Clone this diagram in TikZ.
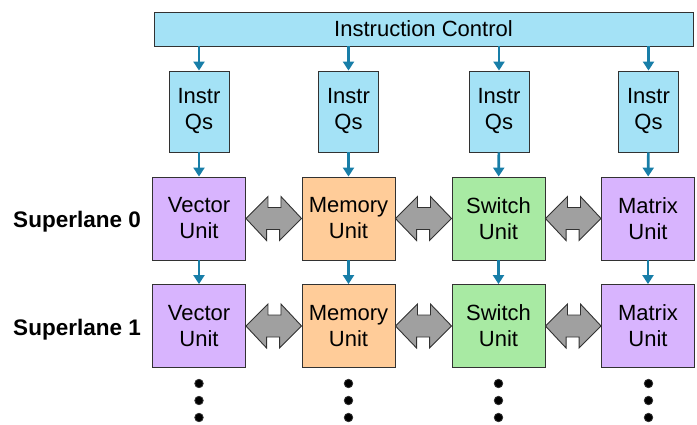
\documentclass[tikz,border=0pt]{standalone}
\usepackage{fontspec}
\setmainfont{Liberation Sans}
\usetikzlibrary{arrows.meta,calc}
\definecolor{cyanfill}{RGB}{164,226,246}
\definecolor{purplefill}{RGB}{216,180,254}
\definecolor{orangefill}{RGB}{255,204,153}
\definecolor{greenfill}{RGB}{168,234,163}
\definecolor{arrowteal}{RGB}{24,126,168}
\definecolor{biarrowgray}{RGB}{160,160,160}
\definecolor{edgegray}{RGB}{50,50,50}
\tikzset{
  box/.style={draw=edgegray, line width=0.9pt, align=center, inner sep=0pt,
    font=\fontsize{22}{26}\selectfont},
  unitbox/.style={box, minimum width=93pt, minimum height=83pt},
  qsbox/.style={box, fill=cyanfill, minimum width=60pt, minimum height=81pt},
  flow/.style={draw=arrowteal, line width=2.6pt, -{Triangle[length=9pt,width=11pt]}},
  biarrow/.style={draw=edgegray, fill=biarrowgray, line width=0.9pt, line join=miter},
  dotmark/.style={circle, fill=black, draw=edgegray, line width=0.8pt, minimum size=8.5pt, inner sep=0pt},
  lanelabel/.style={font=\fontsize{22.5}{26}\selectfont\bfseries, anchor=east, inner sep=0pt}
}
\newcommand\biarrowshape[2]{%
  \path[biarrow] (#1.east) -- ++(22,-22) -- ++(0,11) -- ++(13,0) -- ++(0,-11)
    -- (#2.west) -- ++(-22,22) -- ++(0,-11) -- ++(-13,0) -- ++(0,11) -- cycle;}
\begin{document}
\begin{tikzpicture}[x=1pt,y=-1pt]
\useasboundingbox (0,0) rectangle (697,424);
\node[box, fill=cyanfill, minimum width=539pt, minimum height=34pt] (ic) at (423.5,29) {Instruction Control};
% Instr Qs
\node[qsbox] (q1) at (199,111.5) {Instr\\Qs};
\node[qsbox] (q2) at (348.5,111.5) {Instr\\Qs};
\node[qsbox] (q3) at (499,111.5) {Instr\\Qs};
\node[qsbox] (q4) at (648.5,111.5) {Instr\\Qs};
% Superlane 0
\node[unitbox, fill=purplefill] (v0) at (199,218.5) {Vector\\Unit};
\node[unitbox, fill=orangefill] (m0) at (348.5,218.5) {Memory\\Unit};
\node[unitbox, fill=greenfill] (s0) at (498.5,218.5) {Switch\\Unit};
\node[unitbox, fill=purplefill] (x0) at (648,218.5) {Matrix\\Unit};
% Superlane 1
\node[unitbox, fill=purplefill] (v1) at (199,326) {Vector\\Unit};
\node[unitbox, fill=orangefill] (m1) at (348.5,326) {Memory\\Unit};
\node[unitbox, fill=greenfill] (s1) at (498.5,326) {Switch\\Unit};
\node[unitbox, fill=purplefill] (x1) at (648,326) {Matrix\\Unit};
% labels
\node[lanelabel] (l0) at (141,221.5) {Superlane 0};
\node[lanelabel] (l1) at (141,330) {Superlane 1};
% arrows from control
\foreach \q in {q1,q2,q3,q4} \draw[flow] (ic.south -| \q.north) -- (\q.north);
\draw[flow] (q1) -- (v0);
\draw[flow] (q2) -- (m0);
\draw[flow] (q3) -- (s0);
\draw[flow] (q4) -- (x0);
\draw[flow] (v0) -- (v1);
\draw[flow] (m0) -- (m1);
\draw[flow] (s0) -- (s1);
\draw[flow] (x0) -- (x1);
% double arrows
\biarrowshape{v0}{m0}
\biarrowshape{m0}{s0}
\biarrowshape{s0}{x0}
\biarrowshape{v1}{m1}
\biarrowshape{m1}{s1}
\biarrowshape{s1}{x1}
% dots
\foreach \c/\n in {199/a,348.5/b,498.5/c,648.5/d}{
  \node[dotmark] (\n1) at (\c,383.5) {};
  \node[dotmark] (\n2) at (\c,400.5) {};
  \node[dotmark] (\n3) at (\c,417.5) {};
}
\end{tikzpicture}
\end{document}
